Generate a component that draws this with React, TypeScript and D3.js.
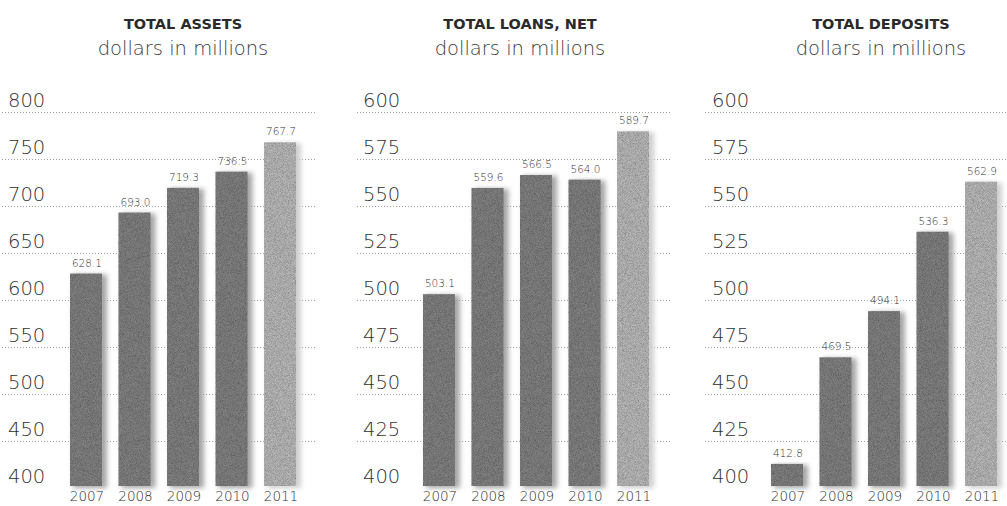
import { useEffect, useRef } from "react";
import * as d3 from "d3";

const years = ["2007", "2008", "2009", "2010", "2011"];

const assets = [628.1, 693.0, 719.3, 736.5, 767.7];
const loans = [503.1, 559.6, 566.5, 564.0, 589.7];
const deposits = [412.8, 469.5, 494.1, 536.3, 562.9];

const assetTicks = [400, 450, 500, 550, 600, 650, 700, 750, 800];
const loanTicks = [400, 425, 450, 475, 500, 525, 550, 575, 600];
const depositTicks = [400, 425, 450, 475, 500, 525, 550, 575, 600];

const panels = [
  { title: "TOTAL ASSETS", values: assets, ticks: assetTicks, gridStart: 2, gridEnd: 316, labelX: 8, barStart: 70, center: 183 },
  { title: "TOTAL LOANS, NET", values: loans, ticks: loanTicks, gridStart: 357, gridEnd: 670, labelX: 363, barStart: 423, center: 520 },
  { title: "TOTAL DEPOSITS", values: deposits, ticks: depositTicks, gridStart: 705, gridEnd: 1007, labelX: 712, barStart: 771, center: 881 },
];

const App = () => {
  const ref = useRef<SVGSVGElement>(null);

  useEffect(() => {
    const svg = d3.select(ref.current);
    svg.selectAll("*").remove();

    const width = 1007;
    const height = 506;
    const yTop = 112;
    const yBottom = 488;
    const font = "'DejaVu Sans', sans-serif";

    const defs = svg.append("defs");
    const blur = defs.append("filter").attr("id", "soft").attr("x", "-20%").attr("width", "140%");
    blur.append("feGaussianBlur").attr("stdDeviation", 2.4);

    // grainy texture on the bars
    const noise = defs
      .append("filter")
      .attr("id", "grain")
      .attr("x", 0)
      .attr("y", 0)
      .attr("width", "100%")
      .attr("height", "100%");
    noise
      .append("feTurbulence")
      .attr("type", "fractalNoise")
      .attr("baseFrequency", 1.4)
      .attr("numOctaves", 1)
      .attr("result", "n");
    noise
      .append("feColorMatrix")
      .attr("in", "n")
      .attr("type", "matrix")
      .attr("values", "0 0 0 0 0  0 0 0 0 0  0 0 0 0 0  0 0 0 1 -0.3")
      .attr("result", "a");
    noise.append("feComposite").attr("in", "a").attr("in2", "SourceGraphic").attr("operator", "in").attr("result", "g");
    const merge = noise.append("feMerge");
    merge.append("feMergeNode").attr("in", "SourceGraphic");
    merge.append("feMergeNode").attr("in", "g");

    svg.append("rect").attr("width", width).attr("height", height).attr("fill", "white");

    panels.forEach((p) => {
      const g = svg.append("g");

      g.append("text")
        .attr("x", p.center)
        .attr("y", 29)
        .attr("text-anchor", "middle")
        .attr("font-family", font)
        .attr("font-weight", "bold")
        .attr("font-size", 14.5)
        .attr("fill", "#2a2a2a")
        .text(p.title);
      g.append("text")
        .attr("x", p.center)
        .attr("y", 55)
        .attr("text-anchor", "middle")
        .attr("font-family", font)
        .attr("font-weight", 200)
        .attr("font-size", 19.5)
        .attr("fill", "#3a3a3a")
        .text("dollars in millions");

      const y = d3
        .scaleLinear()
        .domain([d3.min(p.ticks) as number, d3.max(p.ticks) as number])
        .range([yBottom, yTop]);

      const x = d3
        .scaleBand()
        .domain(years)
        .range([p.barStart, p.barStart + 228])
        .paddingInner(0.3)
        .paddingOuter(0);

      // gridlines
      g.selectAll(".grid")
        .data(p.ticks.slice(1))
        .enter()
        .append("line")
        .attr("x1", p.gridStart)
        .attr("x2", p.gridEnd)
        .attr("y1", (d) => Math.round(y(d)) + 0.5)
        .attr("y2", (d) => Math.round(y(d)) + 0.5)
        .attr("stroke", "#888")
        .attr("stroke-width", 0.8)
        .attr("stroke-dasharray", "1,2");

      // tick labels
      g.selectAll(".tick")
        .data(p.ticks)
        .enter()
        .append("text")
        .attr("x", p.labelX)
        .attr("y", (d) => y(d) - 5)
        .attr("font-family", font)
        .attr("font-weight", 200)
        .attr("font-size", 19.5)
        .attr("fill", "#2f2f2f")
        .text((d) => d);

      const base = y.domain()[0];

      // bars: soft shadow + body
      g.selectAll(".shadow")
        .data(p.values)
        .enter()
        .append("rect")
        .attr("x", (_, i) => (x(years[i]) as number) + 3)
        .attr("y", (d) => y(d) + 1)
        .attr("width", x.bandwidth())
        .attr("height", (d) => y(base) - y(d) - 1)
        .attr("fill", (_, i) => (i === 4 ? "#cfcfcf" : "#a5a5a5"))
        .attr("filter", "url(#soft)");

      g.selectAll(".bar")
        .data(p.values)
        .enter()
        .append("rect")
        .attr("x", (_, i) => x(years[i]) as number)
        .attr("y", (d) => y(d))
        .attr("width", x.bandwidth() - 2)
        .attr("height", (d) => y(base) - y(d) - 2)
        .attr("fill", (_, i) => (i === 4 ? "#bababa" : "#828282"))
        .attr("filter", "url(#grain)");

      // value labels
      g.selectAll(".val")
        .data(p.values)
        .enter()
        .append("text")
        .attr("x", (_, i) => (x(years[i]) as number) + x.bandwidth() / 2)
        .attr("y", (d) => y(d) - 7)
        .attr("text-anchor", "middle")
        .attr("font-family", font)
        .attr("font-weight", 200)
        .attr("font-size", 10.5)
        .attr("fill", "#2f2f2f")
        .text((d) => d.toFixed(1));

      // year labels
      g.selectAll(".yr")
        .data(years)
        .enter()
        .append("text")
        .attr("x", (d) => (x(d) as number) + x.bandwidth() / 2)
        .attr("y", 501)
        .attr("text-anchor", "middle")
        .attr("font-family", font)
        .attr("font-weight", 200)
        .attr("font-size", 13.5)
        .attr("fill", "#2f2f2f")
        .text((d) => d);
    });
  }, []);

  return (
    <svg
      ref={ref}
      width={1007}
      height={506}
      style={{ display: "block", position: "absolute", left: 0, top: 0 }}
    />
  );
};

export default App;
